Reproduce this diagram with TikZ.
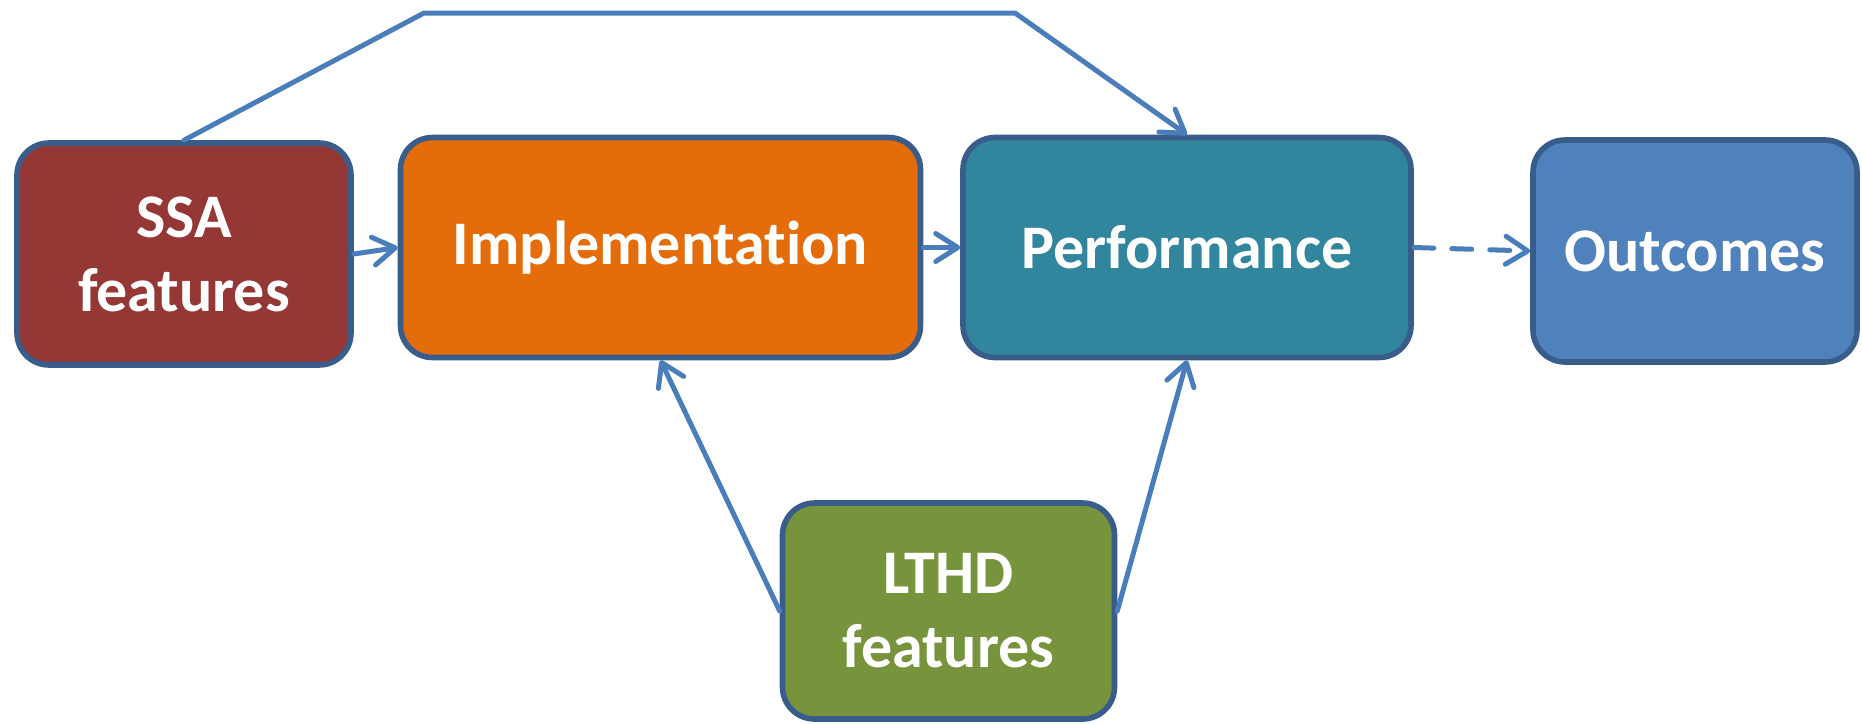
\documentclass[tikz,border=0pt]{standalone}
\usepackage{fontspec}
\setmainfont{Carlito}[Ligatures=NoCommon]
\usetikzlibrary{arrows.meta}
\definecolor{bordercol}{HTML}{385D8A}
\definecolor{arrowcol}{HTML}{4A7EBB}
\definecolor{ssacol}{HTML}{953735}
\definecolor{implcol}{HTML}{E46C0A}
\definecolor{perfcol}{HTML}{31859C}
\definecolor{outcol}{HTML}{4F81BD}
\definecolor{lthdcol}{HTML}{77933C}
\begin{document}
\begin{tikzpicture}[x=0.5pt,y=-0.5pt,
  box/.style={draw=bordercol, line width=2.8pt, rounded corners=16pt,
    text=white, align=center, inner sep=0pt, anchor=center,
    font=\fontsize{31}{37}\selectfont\bfseries},
  conn/.style={draw=arrowcol, line width=2.5pt, line cap=round, line join=round},
  arr/.style={conn, -{Straight Barb[length=11pt,width=14pt,round]}}
]
\useasboundingbox (0,0) rectangle (1862,723);
\node[box, fill=ssacol, minimum width=167pt, minimum height=111pt] (ssa) at (184,254) {SSA\\features};
\node[box, fill=implcol, minimum width=260pt, minimum height=110pt] (impl) at (660.5,247.5) {Implementation};
\node[box, fill=perfcol, minimum width=224pt, minimum height=110pt] (perf) at (1187,247.5) {Performance};
\node[box, fill=outcol, minimum width=162pt, minimum height=111pt] (out) at (1695,251) {Outcomes};
\node[box, fill=lthdcol, minimum width=166pt, minimum height=108pt] (lthd) at (948.5,611) {LTHD\\features};
\coordinate (c1) at (424,13);
\coordinate (c2) at (1015,13);
\draw[arr] (ssa.east) -- (impl.west);
\draw[arr] (impl.east) -- (perf.west);
\draw[arr, dash pattern=on 10pt off 9pt] (perf.east) -- (out.west);
\draw[arr] (ssa.north) -- (c1) -- (c2) -- (perf.north);
\draw[arr] (lthd.west) -- (impl.south);
\draw[arr] (lthd.east) -- (perf.south);
\end{tikzpicture}
\end{document}
